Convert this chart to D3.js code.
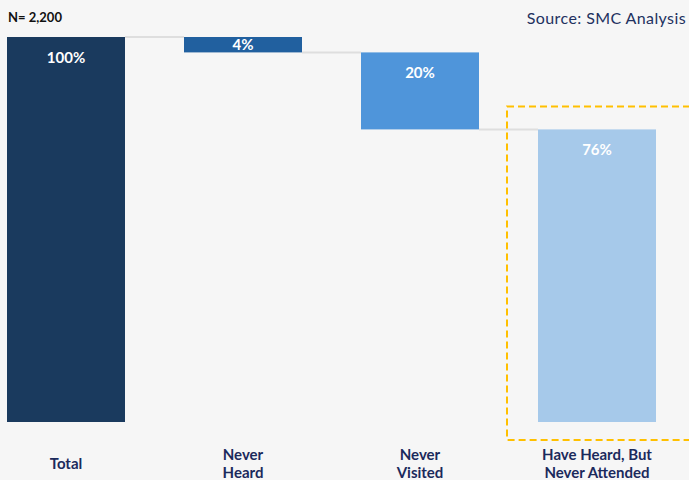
<html>
<head>
    <script src="https://d3js.org/d3.v7.min.js"></script>
    <style>
        body { margin: 0; background: #f6f6f6; }
        svg { display: block; }
    </style>
</head>
<body>
<div id="chart"></div>
<script>
    // chart values
    var categories = [["Total"], ["Never", "Heard"], ["Never", "Visited"], ["Have Heard, But", "Never Attended"]];
    var values = [100, 4, 20, 76];
    var kinds = ["total", "drop", "drop", "total"];
    var colors = ["#1a3a5e", "#21609f", "#4f95da", "#a6c9ea"];

    var width = 689, height = 480;

    var svg = d3.select("#chart").append("svg")
        .attr("width", width)
        .attr("height", height)
        .style("background", "#f6f6f6");

    var x = d3.scaleBand()
        .domain(d3.range(values.length))
        .range([7, 656])
        .paddingInner(1 / 3)
        .paddingOuter(0);

    var y = d3.scaleLinear().domain([0, 100]).range([422, 37]);

    // running start / end for the waterfall
    var level = 0, bars = [];
    values.forEach(function(v, i) {
        var top, bottom;
        if (kinds[i] == "total") { top = v; bottom = 0; level = v; }
        else { top = level; bottom = level - v; level = bottom; }
        bars.push({ i: i, v: v, top: top, bottom: bottom });
    });

    // connector lines
    for (var i = 0; i < bars.length - 1; i++) {
        var a = bars[i];
        var yy = kinds[i] == "total" ? a.top : a.bottom;
        svg.append("line")
            .attr("x1", x(i) + x.bandwidth())
            .attr("x2", x(i + 1))
            .attr("y1", y(yy))
            .attr("y2", y(yy))
            .attr("stroke", "#dedede")
            .attr("stroke-width", 2);
    }

    // highlight box around the last bar
    var last = bars.length - 1;
    svg.append("rect")
        .attr("x", x(last) - 31)
        .attr("y", y(bars[last].top) - 23)
        .attr("width", 200)
        .attr("height", y(0) + 18 - (y(bars[last].top) - 23))
        .attr("fill", "none")
        .attr("stroke", "#ffc000")
        .attr("stroke-width", 2)
        .attr("stroke-dasharray", "7,4");

    // bars
    svg.selectAll(".bar")
        .data(bars)
        .enter()
        .append("rect")
        .attr("class", "bar")
        .attr("x", function(d) { return x(d.i); })
        .attr("y", function(d) { return y(d.top); })
        .attr("width", x.bandwidth())
        .attr("height", function(d) { return y(d.bottom) - y(d.top); })
        .attr("fill", function(d) { return colors[d.i]; });

    // value labels
    svg.selectAll(".val")
        .data(bars)
        .enter()
        .append("text")
        .attr("class", "val")
        .attr("x", function(d) { return x(d.i) + x.bandwidth() / 2; })
        .attr("y", function(d) {
            var h = y(d.bottom) - y(d.top);
            return y(d.top) + Math.min(26, h / 2 + 5);
        })
        .attr("text-anchor", "middle")
        .attr("fill", "#ffffff")
        .style("font-family", "Lato, sans-serif")
        .style("font-weight", "bold")
        .style("font-size", "15px")
        .text(function(d) { return d.v + "%"; });

    // category labels
    categories.forEach(function(lines, i) {
        var t = svg.append("text")
            .attr("text-anchor", "middle")
            .attr("fill", "#1b2a5c")
            .style("font-family", "Lato, sans-serif")
            .style("font-weight", "bold")
            .style("font-size", "15px");
        var y0 = lines.length == 1 ? 469 : 460;
        lines.forEach(function(s, k) {
            t.append("tspan")
                .attr("x", x(i) + x.bandwidth() / 2)
                .attr("y", y0 + k * 18)
                .text(s);
        });
    });

    svg.append("text")
        .attr("x", 8)
        .attr("y", 22)
        .style("font-family", "Lato, sans-serif")
        .style("font-weight", "bold")
        .style("font-size", "13px")
        .attr("fill", "#111")
        .text("N= 2,200");

    svg.append("text")
        .attr("x", 686)
        .attr("y", 24)
        .attr("text-anchor", "end")
        .style("font-family", "Lato, sans-serif")
        .style("font-size", "16px")
        .style("letter-spacing", "0.4px")
        .attr("fill", "#22315f")
        .text("Source: SMC Analysis");
</script>
</body>
</html>
